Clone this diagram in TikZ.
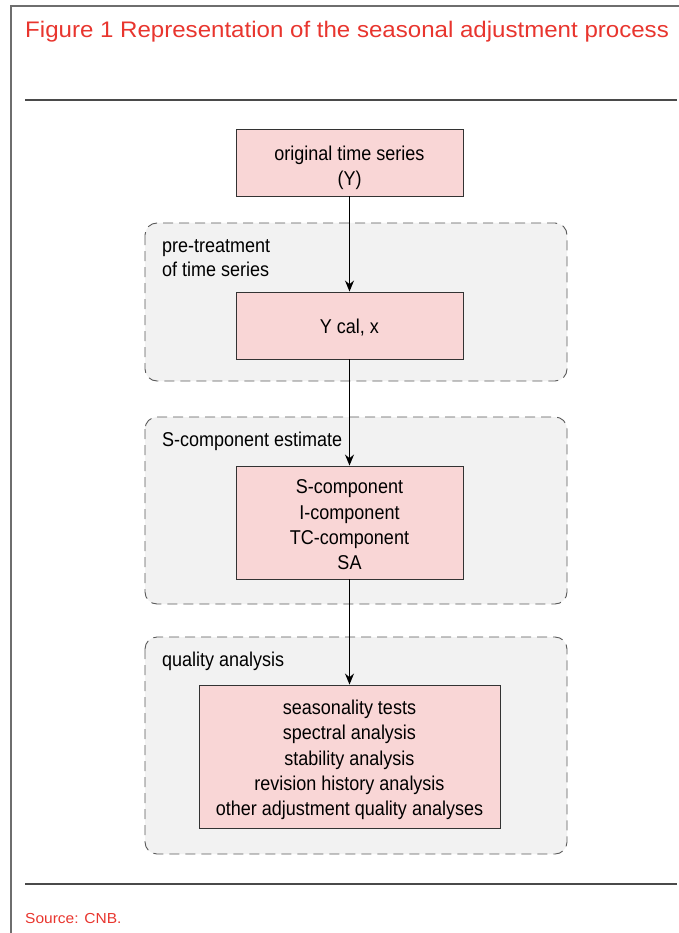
\documentclass[tikz,border=0pt]{standalone}
\usepackage{fontspec}
\setmainfont{Liberation Sans}
\newfontfamily\narrowfont{Liberation Sans}[FakeStretch=0.9]
\newfontfamily\widefont{Liberation Sans}[FakeStretch=1.07]
\usetikzlibrary{arrows.meta}
\definecolor{cnbred}{HTML}{E8352E}
\definecolor{boxpink}{HTML}{F9D6D6}
\definecolor{grpgray}{HTML}{F2F2F2}
\definecolor{rulegray}{HTML}{4A4A4A}
\tikzset{
  stepbox/.style={draw=black!80, line width=0.9pt, fill=boxpink, inner sep=0pt},
  boxtext/.style={align=center, font=\narrowfont\fontsize{20}{25.3}\selectfont, inner sep=0pt},
  grp/.style={draw=black!65, line width=0.9pt, dash pattern=on 10pt off 6pt, fill=grpgray, rounded corners=12pt},
  grplabel/.style={anchor=base west, align=left, font=\narrowfont\fontsize{20}{24}\selectfont, inner sep=0pt},
  flow/.style={-{Stealth[length=11pt,width=9pt]}, line width=1.1pt, black},
  rulel/.style={draw=rulegray, line width=1.3pt}
}
\begin{document}
\begin{tikzpicture}[x=1pt,y=-1pt]
\useasboundingbox (0,0) rectangle (679,933);
% frame
\draw[draw=rulegray!80, line width=1.2pt] (679,6) -- (11,6) -- (11,933);
\node[anchor=base west, text=cnbred, inner sep=0pt, font=\widefont\fontsize{22.5}{26}\selectfont] (title) at (25,37.5) {Figure 1 Representation of the seasonal adjustment process};
\draw[rulel] (25,100) -- (677,100);
\draw[rulel] (25,884) -- (677,884);
\node[anchor=base west, text=cnbred, inner sep=0pt, font=\widefont\fontsize{14.5}{16}\selectfont] (src) at (25,923.3) {Source: CNB.};
% groups
\draw[grp] (145,223) rectangle (567,381);
\draw[grp] (145,417) rectangle (567,604);
\draw[grp] (145,637) rectangle (567,854);
\node[grplabel] (g1) at (162,276.7) {pre-treatment\\of time series};
\node[grplabel] (g2) at (162,446) {S-component estimate};
\node[grplabel] (g3) at (162,666) {quality analysis};
% boxes
\node[stepbox, minimum width=227pt, minimum height=67pt] (b1) at (349.5,162.5) {};
\node[stepbox, minimum width=227pt, minimum height=67pt] (b2) at (349.5,325.5) {};
\node[stepbox, minimum width=227pt, minimum height=113pt] (b3) at (349.5,522.5) {};
\node[stepbox, minimum width=301pt, minimum height=143pt] (b4) at (349.5,756.5) {};
\node[boxtext] (t1) at ([yshift=-5pt]b1.center) {original time series\\(Y)};
\node[boxtext] (t2) at ([yshift=-2pt]b2.center) {Y cal, x};
\node[boxtext] (t3) at ([yshift=-2.5pt]b3.center) {S-component\\I-component\\TC-component\\SA};
\node[boxtext] (t4) at ([yshift=-3.5pt]b4.center) {seasonality tests\\spectral analysis\\stability analysis\\revision history analysis\\other adjustment quality analyses};
% arrows
\draw[flow] (b1.south) -- (b2.north);
\draw[flow] (b2.south) -- (b3.north);
\draw[flow] (b3.south) -- (b4.north);
\end{tikzpicture}
\end{document}
